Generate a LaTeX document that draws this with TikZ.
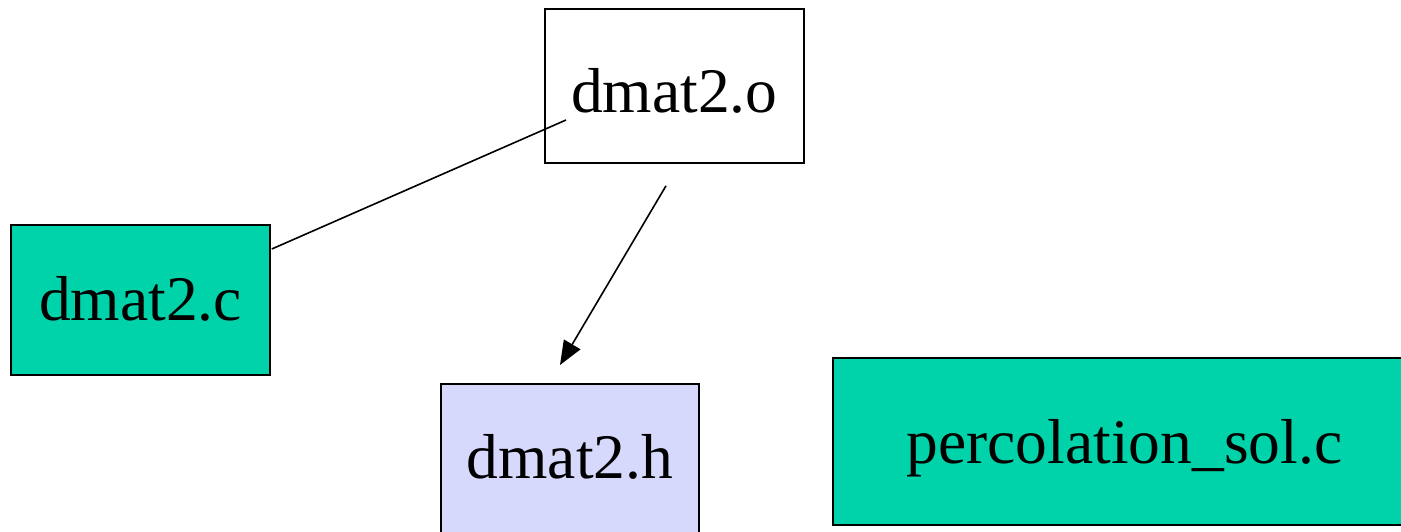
\documentclass[tikz,border=0pt]{standalone}
\usepackage{fontspec}
\setmainfont{Liberation Serif}
\usetikzlibrary{arrows.meta,calc}
\definecolor{srcfill}{RGB}{0,211,170}
\definecolor{hdrfill}{RGB}{214,216,252}
\begin{document}
\begin{tikzpicture}[x=1pt,y=-1pt,
  filebox/.style={draw=black,line width=1.8pt,inner sep=0pt,text depth=0pt,
    font=\fontsize{63.5}{70}\selectfont,anchor=north west},
  link/.style={line width=1.6pt},
  dep/.style={line width=1.6pt,-{Triangle[length=24pt,width=19pt]}}]
\useasboundingbox (0,0) rectangle (1401,531);
\begin{scope}
\clip (0,0) rectangle (1401,531);
\node[filebox,fill=white,minimum width=259pt,minimum height=154pt,text height=54pt]
  (o) at (544,8) {dmat2.o};
\node[filebox,fill=srcfill,minimum width=259pt,minimum height=150pt,text height=42pt]
  (c) at (10,224) {dmat2.c};
\node[filebox,fill=hdrfill,minimum width=258pt,minimum height=150pt,text height=40pt]
  (h) at (440,383) {dmat2.h};
\node[filebox,fill=srcfill,minimum width=583pt,minimum height=167pt,text height=45pt]
  (p) at (832,357) {percolation\_sol.c};
\coordinate (cout) at ($(c.north east)+(1,25)$);
\coordinate (oin) at ($(o.north west)+(22,112)$);
\coordinate (oout) at ($(o.south west)+(122,22)$);
\coordinate (hin) at ($(h.north west)+(120,-18)$);
\draw[link] (cout) -- (oin);
\draw[dep] (oout) -- (hin);
\end{scope}
\end{tikzpicture}
\end{document}
